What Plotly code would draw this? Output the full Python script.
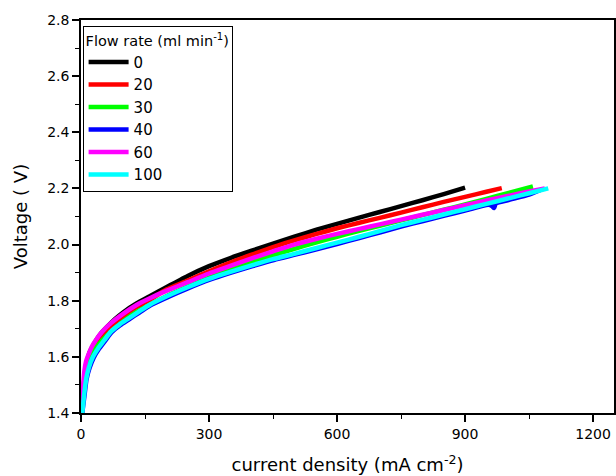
import plotly.graph_objects as go

# Flow rate labels
flow_rates = ["0", "20", "30", "40", "60", "100"]
colors = ["#000000", "#ff0000", "#00ff00", "#0000ff", "#ff00ff", "#00ffff"]

# current density (mA cm-2) and voltage (V) for each flow rate
i_0 = [2, 5, 10, 15, 20, 30, 45, 60, 80, 100, 130, 160, 200, 250, 300, 350, 400, 450, 500,
       550, 600, 650, 700, 750, 800, 850, 900]
v_0 = [1.40, 1.47, 1.55, 1.59, 1.615, 1.645, 1.68, 1.705, 1.735, 1.76, 1.79, 1.815, 1.848,
       1.888, 1.923, 1.952, 1.978, 2.003, 2.028, 2.052, 2.074, 2.095, 2.116, 2.137, 2.158,
       2.18, 2.203]

i_20 = [2, 5, 9, 14, 20, 30, 45, 60, 80, 100, 130, 160, 200, 250, 300, 350, 400, 450, 500,
        550, 600, 650, 700, 750, 800, 850, 900, 950, 986]
v_20 = [1.40, 1.47, 1.54, 1.58, 1.605, 1.635, 1.668, 1.692, 1.72, 1.745, 1.777, 1.802, 1.84,
        1.872, 1.905, 1.936, 1.964, 1.991, 2.015, 2.037, 2.058, 2.077, 2.095, 2.114, 2.133,
        2.152, 2.17, 2.188, 2.201]

i_30 = [2, 6, 11, 17, 25, 35, 50, 70, 100, 130, 160, 200, 250, 300, 350, 400, 450, 500, 550,
        600, 650, 700, 750, 800, 850, 900, 950, 1000, 1059]
v_30 = [1.40, 1.47, 1.54, 1.58, 1.607, 1.632, 1.66, 1.69, 1.728, 1.76, 1.785, 1.816, 1.85,
        1.882, 1.912, 1.938, 1.962, 1.985, 2.007, 2.028, 2.048, 2.067, 2.086, 2.105, 2.124,
        2.143, 2.163, 2.183, 2.207]

i_40 = [3, 8, 13, 20, 30, 42, 57, 72, 92, 112, 137, 162, 202, 252, 302, 352, 402, 452, 502,
        552, 602, 652, 702, 752, 802, 852, 902, 955, 964, 968, 972, 1000, 1050, 1082]
v_40 = [1.40, 1.46, 1.52, 1.56, 1.598, 1.628, 1.658, 1.688, 1.713, 1.733, 1.758, 1.783, 1.812,
        1.845, 1.875, 1.9, 1.923, 1.945, 1.964, 1.983, 2.003, 2.023, 2.044, 2.065, 2.084,
        2.103, 2.122, 2.142, 2.136, 2.13, 2.146, 2.158, 2.178, 2.198]

i_60 = [2, 4, 8, 12, 18, 25, 35, 50, 70, 100, 130, 160, 200, 250, 300, 350, 400, 450, 500,
        550, 600, 650, 700, 750, 800, 850, 900, 950, 1000, 1050, 1087]
v_60 = [1.40, 1.47, 1.55, 1.585, 1.61, 1.635, 1.66, 1.69, 1.72, 1.755, 1.785, 1.808, 1.835,
        1.866, 1.897, 1.924, 1.951, 1.976, 2.0, 2.02, 2.038, 2.055, 2.072, 2.089, 2.106,
        2.123, 2.14, 2.157, 2.173, 2.189, 2.2]

i_100 = [3, 7, 12, 18, 28, 40, 55, 70, 90, 110, 135, 160, 200, 250, 300, 350, 400, 450, 500,
         550, 600, 650, 700, 750, 800, 850, 900, 950, 1000, 1050, 1095]
v_100 = [1.40, 1.46, 1.52, 1.56, 1.6, 1.63, 1.66, 1.69, 1.715, 1.735, 1.76, 1.785, 1.815,
         1.848, 1.878, 1.903, 1.926, 1.948, 1.967, 1.987, 2.007, 2.027, 2.048, 2.069, 2.088,
         2.107, 2.126, 2.145, 2.164, 2.183, 2.2]

x_series = [i_0, i_20, i_30, i_40, i_60, i_100]
y_series = [v_0, v_20, v_30, v_40, v_60, v_100]

x_ticks = [0, 300, 600, 900, 1200]
y_ticks = [1.4, 1.6, 1.8, 2.0, 2.2, 2.4, 2.6, 2.8]

FONT = "DejaVu Sans, Arial, sans-serif"

fig = go.Figure()
for name, col, xs, ys in zip(flow_rates, colors, x_series, y_series):
    fig.add_trace(go.Scatter(x=xs, y=ys, mode="lines", name=name,
                             line=dict(color=col, width=4.5, shape="spline", smoothing=0.6)))

axis_common = dict(
    showline=True, linecolor="black", linewidth=1.5, mirror=True,
    ticks="outside", ticklen=7, tickwidth=1.5, tickcolor="black",
    showgrid=False, zeroline=False, automargin=False,
    tickfont=dict(family=FONT, size=14, color="black"),
)

fig.update_xaxes(
    range=[0, 1249], tickvals=x_ticks, ticktext=[str(v) for v in x_ticks],
    minor=dict(dtick=150, tick0=0, ticks="outside", ticklen=4, tickwidth=1.2, tickcolor="black"),
    title=dict(text="current density (mA cm<sup>-2</sup>)", font=dict(family=FONT, size=18, color="black"),
               standoff=18),
    **axis_common,
)
fig.update_yaxes(
    range=[1.4, 2.8], tickvals=y_ticks, ticktext=[f"{v:.1f}" for v in y_ticks],
    minor=dict(dtick=0.1, tick0=1.4, ticks="outside", ticklen=4, tickwidth=1.2, tickcolor="black"),
    title=dict(text="Voltage ( V)", font=dict(family=FONT, size=18, color="black"), standoff=15),
    **axis_common,
)

fig.update_layout(
    width=616, height=476,
    margin=dict(l=81, r=2, t=20, b=63),
    plot_bgcolor="white", paper_bgcolor="white",
    showlegend=True,
    legend=dict(
        x=0.003, y=0.985, xanchor="left", yanchor="top",
        bordercolor="black", borderwidth=1, bgcolor="white",
        font=dict(family=FONT, size=15, color="black"),
        title=dict(text="Flow rate (ml min<sup>-1</sup>)", font=dict(family=FONT, size=14.5, color="black")),
        tracegroupgap=0, itemwidth=40,
    ),
)

# remove the default page margin so the 616x476 figure fills the window exactly
fig.write_html("out.html",
               config={"displayModeBar": False},
               post_script="document.body.style.margin='0';document.body.style.overflow='hidden';")
